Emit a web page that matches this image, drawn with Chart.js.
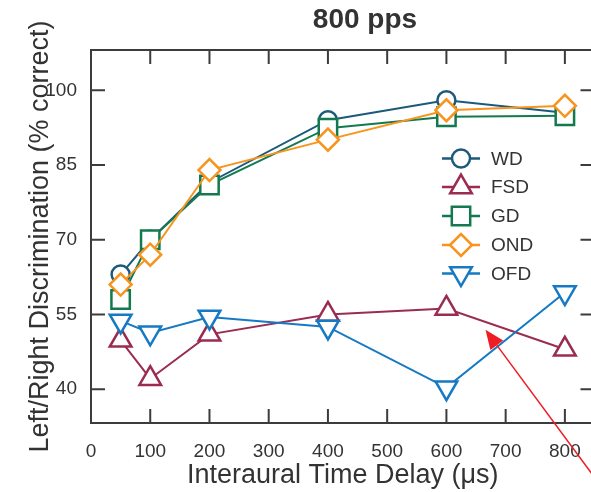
<!DOCTYPE html>
<html>
<head>
<meta charset="utf-8">
<script src="https://cdn.jsdelivr.net/npm/chart.js@4/dist/chart.umd.min.js"></script>
<style>
  html, body { margin: 0; padding: 0; background: #fff; }
  #wrap { width: 591px; height: 492px; overflow: hidden; position: relative; }
  canvas { display: block; }
</style>
</head>
<body>
<div id="wrap"><canvas id="chart" width="610" height="492"></canvas></div>
<script>
  // Werte
  const ITD = [50, 100, 200, 400, 600, 800];
  const WD  = [63, 70, 81.5, 94, 98, 95.5];
  const FSD = [49.8, 42.1, 51, 55, 56.2, 48];
  const GD  = [58, 70, 81, 92.4, 94.7, 94.9];
  const OND = [61, 67, 84, 90.1, 96, 96.9];
  const OFD = [53.7, 51.3, 54.5, 52.5, 40.3, 59.4];

  const X_TICKS = [0, 100, 200, 300, 400, 500, 600, 700, 800];
  const Y_TICKS = [40, 55, 70, 85, 100];

  // roter Pfeil (Annotation), in Datenkoordinaten
  const ARROW_TIP  = [666, 51.9];
  const ARROW_TAIL = [858, 21];

  const FONT = "'Liberation Sans', Arial, sans-serif";
  const TEXT = "#333333";
  const AXIS = "#3c3c3c";

  function series(label, data, color, style, radius, rotation, order) {
    return {
      label,
      data: ITD.map((x, i) => ({ x, y: data[i] })),
      borderColor: color,
      backgroundColor: "#ffffff",
      borderWidth: 2,
      pointStyle: style,
      pointRadius: radius,
      pointRotation: rotation,
      pointBorderWidth: 2.5,
      pointBackgroundColor: "#ffffff",
      pointBorderColor: color,
      pointHoverRadius: radius,
      tension: 0,
      clip: false,
      order,
    };
  }

  const frame = {
    id: "frame",
    beforeDatasetsDraw(chart) {
      const { ctx, chartArea: a, scales: { x, y } } = chart;
      const tl = 14;
      ctx.save();
      ctx.strokeStyle = AXIS;
      ctx.lineWidth = 2;
      ctx.strokeRect(a.left, a.top, a.right - a.left, a.bottom - a.top);
      ctx.beginPath();
      X_TICKS.forEach(v => {
        const px = x.getPixelForValue(v);
        ctx.moveTo(px, a.bottom); ctx.lineTo(px, a.bottom - tl);
        ctx.moveTo(px, a.top); ctx.lineTo(px, a.top + tl);
      });
      Y_TICKS.forEach(v => {
        const py = y.getPixelForValue(v);
        ctx.moveTo(a.left, py); ctx.lineTo(a.left + tl, py);
        ctx.moveTo(a.right, py); ctx.lineTo(a.right - tl, py);
      });
      ctx.stroke();
      ctx.restore();
    },
    afterDraw(chart) {
      const { ctx, scales: { x, y } } = chart;
      ctx.save();
      // Titel
      ctx.fillStyle = TEXT;
      ctx.font = "bold 28px " + FONT;
      ctx.textAlign = "center";
      ctx.textBaseline = "alphabetic";
      ctx.fillText("800 pps", 365, 28);

      // Legende
      const rowY = [158.5, 187, 216, 245, 273.5];
      chart.data.datasets.forEach((ds, i) => {
        const yy = rowY[i];
        ctx.strokeStyle = ds.borderColor;
        ctx.lineWidth = 2.5;
        ctx.beginPath();
        ctx.moveTo(442, yy); ctx.lineTo(480, yy);
        ctx.stroke();
        ctx.fillStyle = "#ffffff";
        ctx.lineWidth = ds.pointBorderWidth;
        Chart.helpers.drawPoint(ctx, {
          pointStyle: ds.pointStyle, radius: ds.pointRadius,
          rotation: ds.pointRotation, borderWidth: ds.pointBorderWidth
        }, 461, yy);
        ctx.fillStyle = TEXT;
        ctx.font = "19px " + FONT;
        ctx.textAlign = "left";
        ctx.textBaseline = "middle";
        ctx.fillText(ds.label, 491, yy + 1);
      });

      // Pfeil
      const tx = x.getPixelForValue(ARROW_TIP[0]), ty = y.getPixelForValue(ARROW_TIP[1]);
      const sx = x.getPixelForValue(ARROW_TAIL[0]), sy = y.getPixelForValue(ARROW_TAIL[1]);
      const ang = Math.atan2(ty - sy, tx - sx);
      const hl = 19, hw = 8;
      const bx = tx - hl * Math.cos(ang), by = ty - hl * Math.sin(ang);
      ctx.strokeStyle = "#ee1c25";
      ctx.fillStyle = "#ee1c25";
      ctx.lineWidth = 1.5;
      ctx.beginPath();
      ctx.moveTo(sx, sy); ctx.lineTo(bx, by);
      ctx.stroke();
      ctx.beginPath();
      ctx.moveTo(tx, ty);
      ctx.lineTo(bx + hw * Math.sin(ang), by - hw * Math.cos(ang));
      ctx.lineTo(bx - hw * Math.sin(ang), by + hw * Math.cos(ang));
      ctx.closePath();
      ctx.fill();
      ctx.restore();
    }
  };

  new Chart(document.getElementById("chart").getContext("2d"), {
    type: "line",
    data: {
      datasets: [
        series("WD",  WD,  "#1c5a7b", "circle",    9,   0,   5),
        series("FSD", FSD, "#9a2c52", "triangle",  12.5, 0,  4),
        series("GD",  GD,  "#137a4f", "rect",      13,  0,   3),
        series("OND", OND, "#f7941d", "rectRot",   11,  0,   2),
        series("OFD", OFD, "#1679c3", "triangle",  12.5, 180, 1),
      ],
    },
    options: {
      responsive: false,
      devicePixelRatio: 1,
      animation: false,
      events: [],
      layout: { padding: { top: 50, right: 14, left: 0, bottom: 0 } },
      plugins: {
        legend: { display: false },
        tooltip: { enabled: false },
        title: { display: false },
      },
      scales: {
        x: {
          type: "linear",
          min: 0,
          max: 850,
          afterBuildTicks: s => { s.ticks = X_TICKS.map(v => ({ value: v })); },
          afterFit: s => { s.height = 69; },
          grid: { display: false },
          border: { display: false },
          ticks: { color: TEXT, font: { family: FONT, size: 19 }, padding: 9, maxRotation: 0 },
          title: {
            display: true,
            text: "Interaural Time Delay (μs)",
            color: TEXT,
            font: { family: FONT, size: 27 },
            padding: { top: 0, bottom: 0 },
          },
        },
        y: {
          min: 33.2,
          max: 108.1,
          afterBuildTicks: s => { s.ticks = Y_TICKS.map(v => ({ value: v })); },
          afterFit: s => { s.width = 91; },
          grid: { display: false },
          border: { display: false },
          ticks: { color: TEXT, font: { family: FONT, size: 19 }, padding: 6 },
          title: {
            display: true,
            text: "Left/Right Discrimination (% correct)",
            color: TEXT,
            font: { family: FONT, size: 27 },
            padding: { top: 24, bottom: 0 },
          },
        },
      },
    },
    plugins: [frame],
  });
</script>
</body>
</html>
